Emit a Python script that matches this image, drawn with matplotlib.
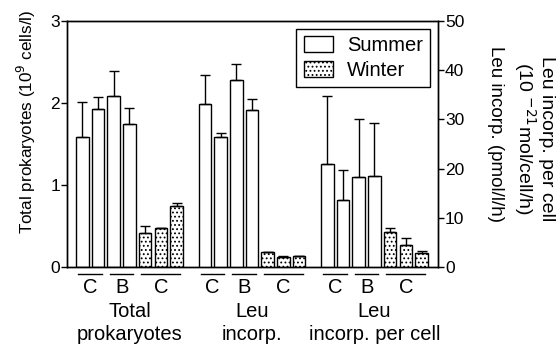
import matplotlib.pyplot as plt
import matplotlib.transforms as mtransforms
from matplotlib.patches import Patch

plt.rcParams['font.family'] = ['Liberation Sans', 'DejaVu Sans']
plt.rcParams['font.size'] = 12
plt.rcParams['hatch.linewidth'] = 0.8

# valores
prok_mean = [1.58, 1.93, 2.09, 1.74, 0.42, 0.47, 0.75]
prok_err = [0.43, 0.14, 0.30, 0.20, 0.08, 0.01, 0.03]
leu_mean = [33.1, 26.4, 38.1, 32.0, 3.0, 2.1, 2.2]
leu_err = [6.0, 0.8, 3.1, 2.1, 0.1, 0.1, 0.1]
cell_mean = [21.0, 13.6, 18.3, 18.4, 7.2, 4.4, 2.9]
cell_err = [13.8, 6.2, 11.8, 10.8, 0.7, 1.4, 0.4]
season = ['Summer'] * 4 + ['Winter'] * 3
sites = ['C', 'B', 'C']
site_spans = [(0, 1), (2, 3), (4, 6)]
group_names = ['Total\nprokaryotes', 'Leu\nincorp.', 'Leu\nincorp. per cell']

fig = plt.figure(figsize=(5.58, 3.47), dpi=100)
ax = fig.add_axes([0.120, 0.2305, 0.665, 0.709])
ax2 = ax.twinx()

offsets = [0, 7.8, 15.6]
width = 0.8


def barras(eje, x0, medias, errores):
    for i, (m, e) in enumerate(zip(medias, errores)):
        hatch = '....' if season[i] == 'Winter' else None
        eje.bar(x0 + i, m, width=width, color='white', edgecolor='black',
                linewidth=1.0, hatch=hatch, zorder=2)
        eje.errorbar(x0 + i, m, yerr=[[0], [e]], fmt='none', ecolor='black',
                     elinewidth=1.0, capsize=3.5, capthick=1.0, zorder=3)


barras(ax, offsets[0], prok_mean, prok_err)
barras(ax2, offsets[1], leu_mean, leu_err)
barras(ax2, offsets[2], cell_mean, cell_err)

ax.set_xlim(-0.98, 22.65)
ax.set_ylim(0, 3)
ax2.set_ylim(0, 50)
ax.set_yticks([0, 1, 2, 3])
ax2.set_yticks([0, 10, 20, 30, 40, 50])
ax.set_xticks([])
ax.tick_params(axis='y', length=4, width=1, pad=1, labelsize=12.5)
ax2.tick_params(axis='y', length=4, width=1, pad=1, labelsize=12.5)
for eje in (ax, ax2):
    for s in eje.spines.values():
        s.set_linewidth(1.0)

trans = mtransforms.blended_transform_factory(ax.transData, ax.transAxes)
for x0, name in zip(offsets, group_names):
    for lab, (i0, i1) in zip(sites, site_spans):
        ax.plot([x0 + i0 - 0.25, x0 + i1 + 0.25], [-0.028, -0.028], color='black',
                linewidth=1.0, transform=trans, clip_on=False)
        ax.text(x0 + (i0 + i1) / 2, -0.084, lab, transform=trans,
                ha='center', va='center', fontsize=14.5)
    ax.text(x0 + 3, -0.142, name, transform=trans, ha='center', va='top',
            fontsize=14.5, linespacing=1.3)

fig.text(0.047, 0.648, 'Total prokaryotes (10$^9$ cells/l)', rotation=90,
         ha='center', va='center', fontsize=12.3)
fig.text(0.888, 0.615, 'Leu incorp. (pmol/l/h)', rotation=270,
         ha='center', va='center', fontsize=13.5)
fig.text(0.956, 0.6, 'Leu incorp. per cell\n(10 $^{-21}$mol/cell/h)', rotation=270,
         ha='center', va='center', fontsize=14, linespacing=1.05)

handles = [Patch(facecolor='white', edgecolor='black', linewidth=1.0),
           Patch(facecolor='white', edgecolor='black', linewidth=1.0, hatch='....')]
leg = ax2.legend(handles, ['Summer', 'Winter'], loc='upper right',
                 bbox_to_anchor=(0.978, 0.967), borderaxespad=0, fancybox=False,
                 framealpha=1, edgecolor='black', handlelength=1.45, handleheight=0.85,
                 borderpad=0.35, labelspacing=0.3, handletextpad=0.7, fontsize=14.5)
leg.get_frame().set_linewidth(1.0)

plt.savefig('out.png', dpi=100)
